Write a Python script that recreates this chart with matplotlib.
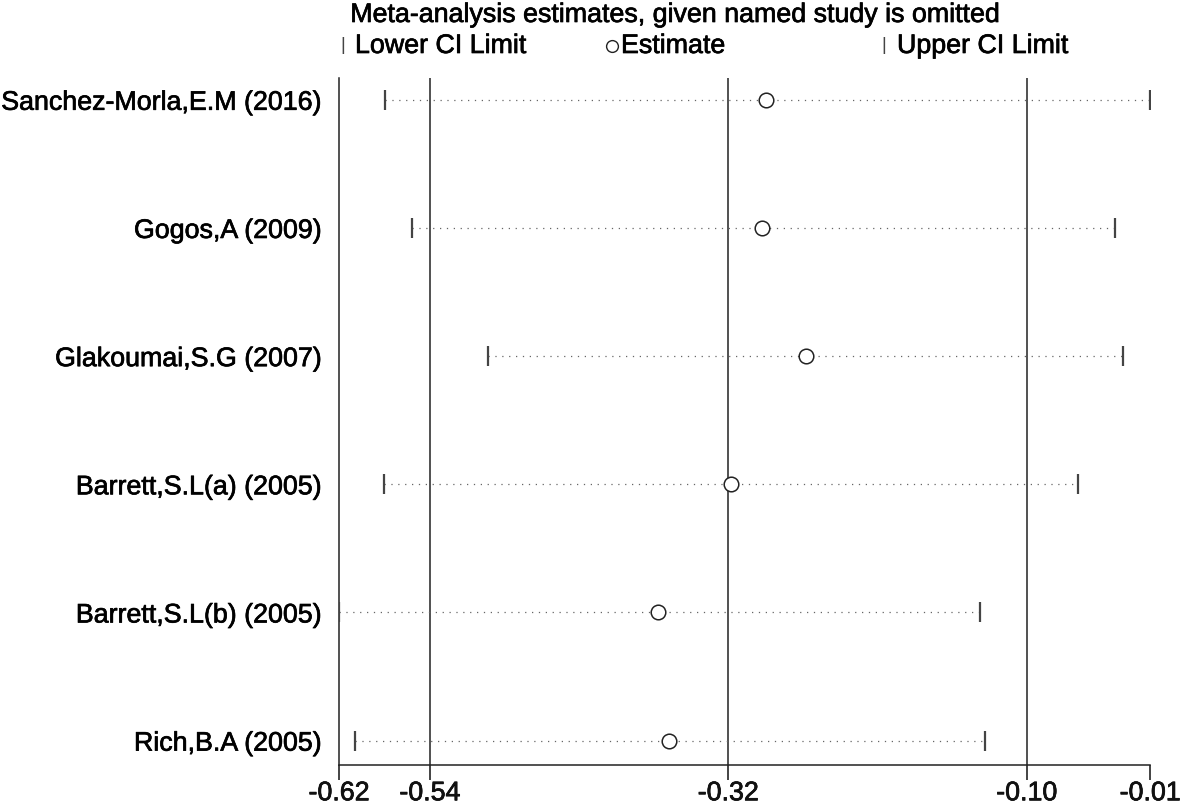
import numpy as np
import matplotlib
matplotlib.use("Agg")
import matplotlib.pyplot as plt
import matplotlib.patheffects as pe

plt.rcParams['font.family'] = ['Liberation Sans', 'DejaVu Sans']

# Studies, top to bottom
studies = ["Sanchez-Morla,E.M (2016)", "Gogos,A (2009)", "Glakoumai,S.G (2007)",
           "Barrett,S.L(a) (2005)", "Barrett,S.L(b) (2005)", "Rich,B.A (2005)"]
# Estimates with the named study omitted
estimate = [-0.292, -0.295, -0.263, -0.318, -0.372, -0.364]
lower_ci = [-0.573, -0.553, -0.497, -0.574, -0.607, -0.595]
upper_ci = [-0.009, -0.035, -0.029, -0.062, -0.134, -0.131]

# Overall (all studies) lower CI, estimate, upper CI
overall = [-0.54, -0.32, -0.10]

# Axis ticks: min lower, overall values, max upper
tick_values = [-0.607, -0.54, -0.32, -0.10, -0.009]
tick_labels = ["-0.62", "-0.54", "-0.32", "-0.10", "-0.01"]

FS = 19.3
# slightly heavier text, like the original rendering
heavy = [pe.withStroke(linewidth=0.5, foreground='black')]

fig = plt.figure(figsize=(11.81, 8.07), dpi=100)
ax = fig.add_axes([339 / 1181, 1 - 765 / 807, (1150 - 339) / 1181, (765 - 78) / 807])

n = len(studies)
ypos = np.arange(n, 0, -1)

# Vertical reference lines for overall estimate and CI
for v in overall:
    ax.axvline(v, color='#222222', lw=1.1, zorder=1)

# Dotted CI lines
ax.hlines(ypos, lower_ci, upper_ci, colors='#666666', linestyles=(0, (1, 4.5)), lw=0.9, zorder=2)

# CI limit markers
ax.plot(lower_ci, ypos, linestyle='none', marker='|', markersize=14, mew=1.6, color='#444444', zorder=3)
ax.plot(upper_ci, ypos, linestyle='none', marker='|', markersize=14, mew=1.6, color='#444444', zorder=3)

# Estimates
ax.plot(estimate, ypos, linestyle='none', marker='o', markersize=10.5, mfc='white',
        mec='#222222', mew=1.1, zorder=4)

ax.set_xlim(min(lower_ci), max(upper_ci))
ax.set_ylim(0.81, n + 0.17)

ax.set_yticks(ypos)
ax.set_yticklabels(studies, fontsize=FS)
ax.tick_params(axis='y', length=0, pad=13)

ax.set_xticks(tick_values)
ax.set_xticklabels(tick_labels, fontsize=FS)
ax.tick_params(axis='x', direction='out', length=11, width=1.1, pad=0, colors='#111111')

for lab in ax.get_xticklabels() + ax.get_yticklabels():
    lab.set_path_effects(heavy)

for side in ['top', 'right']:
    ax.spines[side].set_visible(False)
for side in ['left', 'bottom']:
    ax.spines[side].set_linewidth(1.1)
    ax.spines[side].set_color('#222222')

# Title and legend row
fig.text(674 / 1181, 1 - 15 / 807, "Meta-analysis estimates, given named study is omitted",
         fontsize=FS, ha='center', va='center', path_effects=heavy)

leg_y = 1 - 46 / 807
fig.text(343 / 1181, leg_y, "|", fontsize=13, ha='center', va='center', color='#444444')
fig.text(355 / 1181, leg_y, "Lower CI Limit", fontsize=FS, ha='left', va='center', path_effects=heavy)
fig.lines.append(plt.Line2D([612 / 1181], [leg_y], transform=fig.transFigure, marker='o',
                            markersize=8.5, mfc='white', mec='#222222', mew=1.0))
fig.text(621 / 1181, leg_y, "Estimate", fontsize=FS, ha='left', va='center', path_effects=heavy)
fig.text(884 / 1181, leg_y, "|", fontsize=13, ha='center', va='center', color='#444444')
fig.text(897 / 1181, leg_y, "Upper CI Limit", fontsize=FS, ha='left', va='center', path_effects=heavy)

fig.savefig("out.png", dpi=100)
